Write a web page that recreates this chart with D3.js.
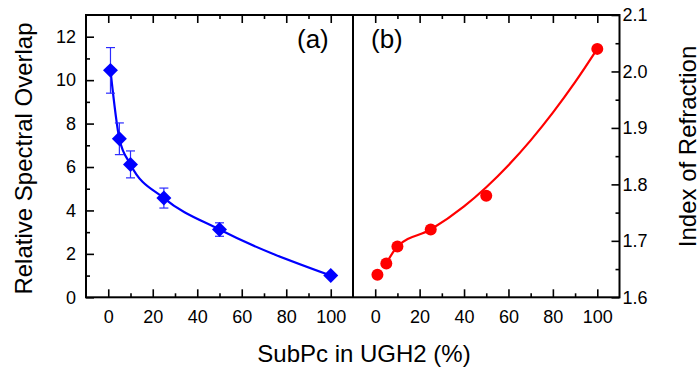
<!DOCTYPE html>
<html>
<head>
<meta charset="utf-8">
<script src="https://cdn.jsdelivr.net/npm/d3@7"></script>
<style>
  html, body { margin: 0; padding: 0; background: #fff; }
  svg { display: block; font-family: "Liberation Sans", Arial, sans-serif; }
</style>
</head>
<body>
<svg id="chart" width="699" height="370"></svg>
<script>
// ---- data ----
const subpc = [1, 5, 10, 25, 50, 100];
const overlap = [10.45, 7.3, 6.12, 4.57, 3.12, 1.0];
const overlapErr = [1.05, 0.73, 0.62, 0.46, 0.31, 0];
const refrIndex = [1.64, 1.66, 1.69, 1.72, 1.78, 2.04];
const fitX = [5, 10, 25, 40, 50, 60, 70, 80, 90, 100];
const fitIndex = [1.66, 1.69, 1.72, 1.761, 1.795, 1.834, 1.878, 1.927, 1.981, 2.04];
const xMajorTicks = [0, 20, 40, 60, 80, 100];
const xMinorTicks = [10, 30, 50, 70, 90];
const leftMajorTicks = [0, 2, 4, 6, 8, 10, 12];
const leftMinorTicks = [1, 3, 5, 7, 9, 11];
const rightMajorTicks = [1.6, 1.7, 1.8, 1.9, 2.0, 2.1];
const rightMinorTicks = [1.65, 1.75, 1.85, 1.95, 2.05];
const xTitle = "SubPc in UGH2 (%)";
const leftTitle = "Relative Spectral Overlap";
const rightTitle = "Index of Refraction";

// ---- layout ----
const plotTop = 15, plotBottom = 297.3;
const aL = 86, aR = 353, bL = 353, bR = 619.5;
const svg = d3.select("#chart");

const xA = d3.scaleLinear().domain([-10, 110]).range([aL, aR]);
const xB = d3.scaleLinear().domain([-10, 110]).range([bL, bR]);
const yA = d3.scaleLinear().domain([0, 13]).range([plotBottom, plotTop]);
const yB = d3.scaleLinear().domain([1.6, 2.1]).range([plotBottom, plotTop]);

const tickFont = 18;

function styleAxis(g) {
  g.select(".domain").remove();
  g.selectAll(".tick line").attr("stroke", "#000").attr("stroke-width", 1.6);
  g.selectAll(".tick text").attr("fill", "#000").style("font-size", tickFont + "px")
    .style("font-family", '"Liberation Sans", Arial, sans-serif');
}

function panelAxes(x, yScale, yMaj, yMin, side) {
  svg.append("g").attr("transform", `translate(0,${plotBottom})`)
    .call(d3.axisBottom(x).tickValues(xMajorTicks).tickSize(-8).tickPadding(13).tickFormat(d3.format("d")))
    .call(styleAxis);
  svg.append("g").attr("transform", `translate(0,${plotBottom})`)
    .call(d3.axisBottom(x).tickValues(xMinorTicks).tickSize(-4).tickFormat(""))
    .call(styleAxis);
  svg.append("g").attr("transform", `translate(0,${plotTop})`)
    .call(d3.axisTop(x).tickValues(xMajorTicks).tickSize(-8).tickFormat(""))
    .call(styleAxis);
  svg.append("g").attr("transform", `translate(0,${plotTop})`)
    .call(d3.axisTop(x).tickValues(xMinorTicks).tickSize(-4).tickFormat(""))
    .call(styleAxis);
  if (side === "left") {
    svg.append("g").attr("transform", `translate(${aL},0)`)
      .call(d3.axisLeft(yScale).tickValues(yMaj).tickSize(-8).tickPadding(10).tickFormat(d3.format("d")))
      .call(styleAxis);
    svg.append("g").attr("transform", `translate(${aL},0)`)
      .call(d3.axisLeft(yScale).tickValues(yMin).tickSize(-4).tickFormat(""))
      .call(styleAxis);
  } else {
    svg.append("g").attr("transform", `translate(${bR},0)`)
      .call(d3.axisRight(yScale).tickValues(yMaj).tickSize(-8).tickPadding(3).tickFormat(d3.format(".1f")))
      .call(styleAxis);
    svg.append("g").attr("transform", `translate(${bR},0)`)
      .call(d3.axisRight(yScale).tickValues(yMin).tickSize(-4).tickFormat(""))
      .call(styleAxis);
  }
}

panelAxes(xA, yA, leftMajorTicks, leftMinorTicks, "left");
panelAxes(xB, yB, rightMajorTicks, rightMinorTicks, "right");

// ---- panel (a) ----
const dataA = subpc.map((x, i) => ({x, y: overlap[i], e: overlapErr[i]}));
const lineA = d3.line().x(d => xA(d.x)).y(d => yA(d.y)).curve(d3.curveMonotoneX);
svg.append("path").datum(dataA).attr("d", lineA)
  .attr("fill", "none").attr("stroke", "#0000ff").attr("stroke-width", 2.2);

const eb = svg.append("g").attr("stroke", "#2b2bff").attr("stroke-width", 1.2);
dataA.filter(d => d.e > 0).forEach(d => {
  const cx = xA(d.x);
  eb.append("line").attr("x1", cx).attr("x2", cx).attr("y1", yA(d.y + d.e)).attr("y2", yA(d.y - d.e));
  eb.append("line").attr("x1", cx - 4.5).attr("x2", cx + 4.5).attr("y1", yA(d.y + d.e)).attr("y2", yA(d.y + d.e));
  eb.append("line").attr("x1", cx - 4.5).attr("x2", cx + 4.5).attr("y1", yA(d.y - d.e)).attr("y2", yA(d.y - d.e));
});

svg.append("g").selectAll("path").data(dataA).join("path")
  .attr("d", d3.symbol(d3.symbolSquare, 112))
  .attr("transform", d => `translate(${xA(d.x)},${yA(d.y)}) rotate(45)`)
  .attr("fill", "#0000ff");

// ---- panel (b) ----
const fitB = fitX.map((x, i) => ({x, y: fitIndex[i]}));
const lineB = d3.line().x(d => xB(d.x)).y(d => yB(d.y)).curve(d3.curveMonotoneX);
svg.append("path").datum(fitB).attr("d", lineB)
  .attr("fill", "none").attr("stroke", "#ff0000").attr("stroke-width", 2.2);

const dataB = subpc.map((x, i) => ({x, y: refrIndex[i]}));
svg.append("g").selectAll("circle").data(dataB).join("circle")
  .attr("cx", d => xB(d.x)).attr("cy", d => yB(d.y)).attr("r", 6)
  .attr("fill", "#ff0000");

// ---- frames ----
svg.append("rect").attr("x", aL).attr("y", plotTop).attr("width", bR - aL).attr("height", plotBottom - plotTop)
  .attr("fill", "none").attr("stroke", "#000").attr("stroke-width", 2);
svg.append("line").attr("x1", bL).attr("x2", bL).attr("y1", plotTop).attr("y2", plotBottom)
  .attr("stroke", "#000").attr("stroke-width", 2);

// ---- labels ----
svg.append("text").attr("x", 297).attr("y", 48).style("font-size", "26px").text("(a)");
svg.append("text").attr("x", 371).attr("y", 48).style("font-size", "26px").text("(b)");

svg.append("text").attr("x", 364).attr("y", 361.5).attr("text-anchor", "middle")
  .style("font-size", "24px").text(xTitle);
svg.append("text").attr("transform", "translate(32,158.5) rotate(-90)").attr("text-anchor", "middle")
  .style("font-size", "24px").text(leftTitle);
svg.append("text").attr("transform", "translate(695.5,146.5) rotate(-90)").attr("text-anchor", "middle")
  .style("font-size", "24px").text(rightTitle);
</script>
</body>
</html>
